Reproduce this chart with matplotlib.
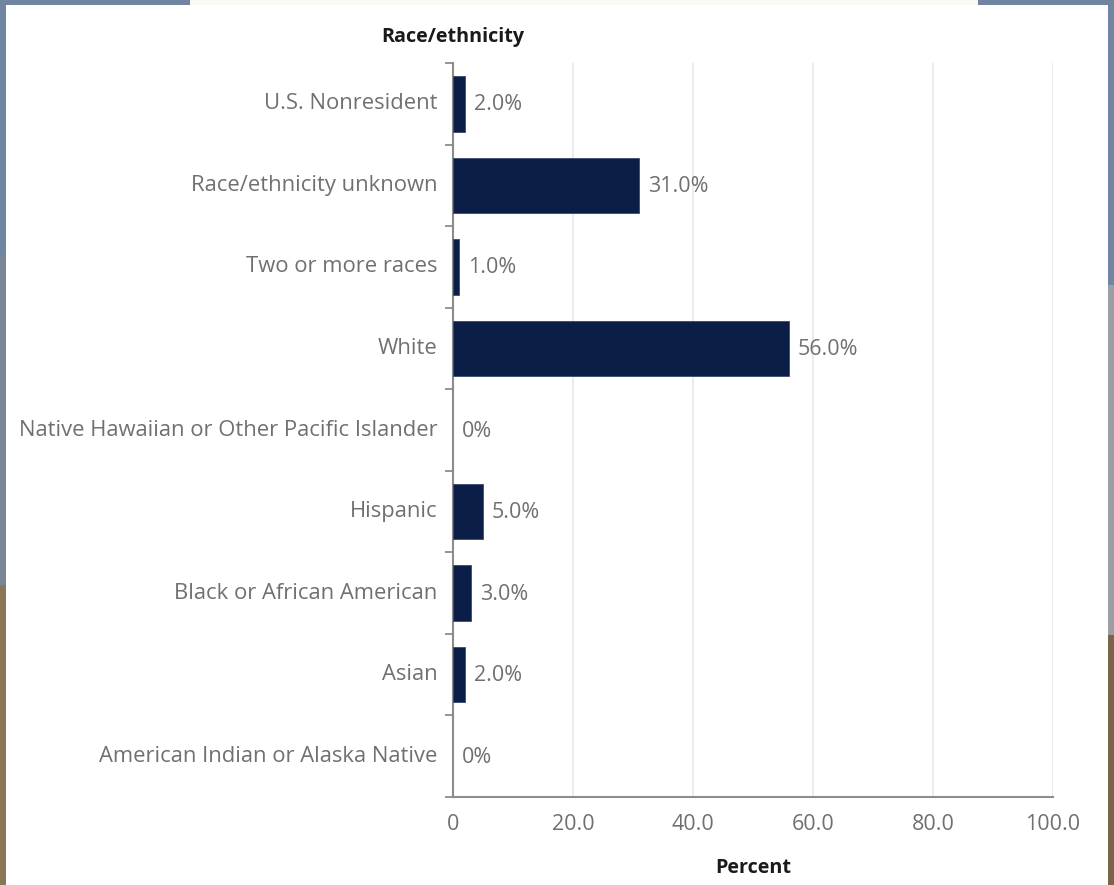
import matplotlib
matplotlib.use("Agg")
import matplotlib.pyplot as plt
from matplotlib.patches import Rectangle
from matplotlib.ticker import FixedLocator
import numpy as np

plt.rcParams['font.family'] = ['Open Sans', 'DejaVu Sans']

categories = [
    "U.S. Nonresident",
    "Race/ethnicity unknown",
    "Two or more races",
    "White",
    "Native Hawaiian or Other Pacific Islander",
    "Hispanic",
    "Black or African American",
    "Asian",
    "American Indian or Alaska Native",
]
percent = [2.0, 31.0, 1.0, 56.0, 0.0, 5.0, 3.0, 2.0, 0.0]
x_ticks = [0, 20, 40, 60, 80, 100]
x_tick_labels = ["0", "20.0", "40.0", "60.0", "80.0", "100.0"]

BAR = "#0b1e48"
TEXT = "#707070"
AXIS = "#8c8c8c"

W, H = 1114, 885
fig = plt.figure(figsize=(W / 100, H / 100), dpi=100)
fig.patch.set_facecolor("white")

# window border around the screenshot
border = [
    (0, H - 5, 190, 5, "#6f85a1"),
    (190, H - 5, 788, 5, "#fbf9f3"),
    (978, H - 5, 136, 5, "#6f85a1"),
    (0, 0, 6, 300, "#8a7656"),
    (0, 300, 6, 330, "#7a8596"),
    (0, 630, 6, 255, "#6f85a1"),
    (1108, 0, 6, 250, "#7b6548"),
    (1108, 250, 6, 350, "#9a9ea6"),
    (1108, 600, 6, 285, "#6f85a1"),
]
for x0, y0, w, h, c in border:
    fig.add_artist(Rectangle((x0 / W, y0 / H), w / W, h / H,
                             transform=fig.transFigure, color=c, lw=0, zorder=10))

left, right = 453 / W, 1053 / W
bottom, top = (H - 797) / H, (H - 63) / H
ax = fig.add_axes([left, bottom, right - left, top - bottom])

y = np.arange(len(categories))
edges = ["none" if v == 0 else "#3a4a6e" for v in percent]
ax.barh(y, percent, height=0.68, color=BAR, edgecolor=edges, linewidth=0.6, zorder=3)

for yi, v in zip(y, percent):
    label = "0%" if v == 0 else f"{v:.1f}%"
    ax.annotate(label, (v, yi), xytext=(9, -1), textcoords="offset pixels",
                ha="left", va="center", fontsize=15.5, color=TEXT, zorder=4)

ax.set_xlim(0, 100)
ax.set_ylim(len(categories) - 0.5, -0.5)

ax.set_xticks(x_ticks)
ax.set_xticklabels(x_tick_labels, fontsize=15.5, color=TEXT)
ax.set_yticks(y)
ax.set_yticklabels(categories, fontsize=15.8, color=TEXT, va="center")
ax.yaxis.set_minor_locator(FixedLocator(np.arange(-0.5, len(categories), 1.0)))

ax.tick_params(axis="x", length=0, pad=12)
ax.tick_params(axis="y", which="major", length=0, pad=11)
ax.tick_params(axis="y", which="minor", length=6, width=1.3, color=AXIS)

ax.grid(axis="x", color="#e8e8e8", linewidth=1.2, zorder=0)
for s in ["top", "right"]:
    ax.spines[s].set_visible(False)
for s in ["left", "bottom"]:
    ax.spines[s].set_color(AXIS)
    ax.spines[s].set_linewidth(1.5)

fig.text(453 / W, 1 - 37 / H, "Race/ethnicity", ha="center", va="center",
         fontsize=14.2, fontweight="bold", color="#1a1a1a")
fig.text(753 / W, 1 - 868 / H, "Percent", ha="center", va="center",
         fontsize=14.2, fontweight="bold", color="#1a1a1a")

fig.savefig("out.png", dpi=100)
